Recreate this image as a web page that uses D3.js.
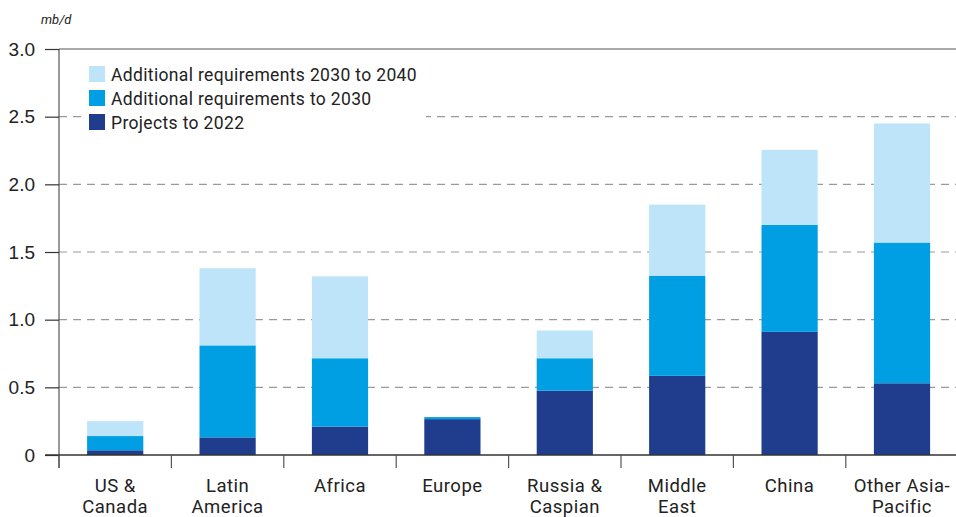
<!DOCTYPE html>
<html>
<head>
<meta charset="utf-8">
<script src="https://cdn.jsdelivr.net/npm/d3@7"></script>
<style>
  body { margin: 0; background: #fff; }
  svg { display: block; font-family: Roboto, "Liberation Sans", sans-serif; }
</style>
</head>
<body>
<div id="chart"></div>
<script>
// regions and stacked increments (mb/d)
var categories = [["US &", "Canada"], ["Latin", "America"], ["Africa"], ["Europe"],
    ["Russia &", "Caspian"], ["Middle", "East"], ["China"], ["Other Asia-", "Pacific"]];
var projects2022 = [0.035, 0.13, 0.21, 0.265, 0.475, 0.585, 0.91, 0.53];
var additional2030 = [0.105, 0.68, 0.505, 0.015, 0.24, 0.74, 0.79, 1.04];
var additional2040 = [0.11, 0.57, 0.605, 0, 0.205, 0.525, 0.555, 0.88];
var seriesNames = ["Projects to 2022", "Additional requirements to 2030", "Additional requirements 2030 to 2040"];
var seriesColors = ["#1f3d8c", "#009fe3", "#bee4f9"];
var yTicks = [0, 0.5, 1.0, 1.5, 2.0, 2.5, 3.0];

var width = 956, height = 517;
var margin = {top: 49, right: 0, bottom: 62, left: 59};

var svg = d3.select("#chart").append("svg")
    .attr("width", width)
    .attr("height", height);

var x = d3.scaleBand()
    .domain(d3.range(categories.length))
    .range([margin.left, margin.left + 8 * 112.4])
    .paddingInner(0.5)
    .paddingOuter(0.25);

var y = d3.scaleLinear()
    .domain([0, 3])
    .range([height - margin.bottom, margin.top]);

// grid lines
svg.append("g").selectAll("line")
    .data(yTicks.filter(function(d) { return d > 0 && d < 3; }))
    .enter().append("line")
    .attr("x1", margin.left)
    .attr("x2", width)
    .attr("y1", function(d) { return y(d); })
    .attr("y2", function(d) { return y(d); })
    .attr("stroke", "#9a9a9a")
    .attr("stroke-width", 1.2)
    .attr("stroke-dasharray", "8,6");

// top line
svg.append("line")
    .attr("x1", margin.left).attr("x2", width)
    .attr("y1", y(3)).attr("y2", y(3))
    .attr("stroke", "#555").attr("stroke-width", 1.2);

// stacked bars
var table = categories.map(function(c, i) {
    return {i: i, s0: projects2022[i], s1: additional2030[i], s2: additional2040[i]};
});
var stack = d3.stack().keys(["s0", "s1", "s2"]);
var layers = stack(table);

svg.append("g").selectAll("g")
    .data(layers)
    .enter().append("g")
    .attr("fill", function(d, k) { return seriesColors[k]; })
    .selectAll("rect")
    .data(function(d) { return d; })
    .enter().append("rect")
    .attr("x", function(d) { return x(d.data.i); })
    .attr("width", x.bandwidth())
    .attr("y", function(d) { return y(d[1]); })
    .attr("height", function(d) { return y(d[0]) - y(d[1]); });

// y axis
var yAxis = d3.axisLeft(y)
    .tickValues(yTicks)
    .tickSize(14)
    .tickPadding(10)
    .tickFormat(function(d) { return d === 0 ? "0" : d3.format(".1f")(d); });

var gy = svg.append("g")
    .attr("transform", "translate(" + margin.left + ",0)")
    .call(yAxis);
gy.select(".domain").attr("stroke", "#555").attr("stroke-width", 1.2)
    .attr("d", "M0," + y(3) + "V" + (y(0) + 13));
gy.selectAll(".tick line").attr("stroke", "#333").attr("stroke-width", 1.2);
gy.selectAll(".tick text")
    .attr("fill", "#222")
    .style("font-size", "19px");

// x axis baseline and category separators
svg.append("line")
    .attr("x1", margin.left - 14).attr("x2", width)
    .attr("y1", y(0)).attr("y2", y(0))
    .attr("stroke", "#333").attr("stroke-width", 1.4);

svg.append("g").selectAll("line")
    .data(d3.range(categories.length))
    .enter().append("line")
    .attr("x1", function(i) { return margin.left + i * x.step(); })
    .attr("x2", function(i) { return margin.left + i * x.step(); })
    .attr("y1", y(0))
    .attr("y2", y(0) + 13)
    .attr("stroke", "#555")
    .attr("stroke-width", 1.2);

// category labels
var labels = svg.append("g").selectAll("text")
    .data(categories)
    .enter().append("text")
    .attr("text-anchor", "middle")
    .attr("fill", "#222")
    .style("font-size", "18.5px")
    .style("letter-spacing", "0.5px")
    .attr("x", function(d, i) { return x(i) + x.bandwidth() / 2; })
    .attr("y", 492);
labels.selectAll("tspan")
    .data(function(d) { return d; })
    .enter().append("tspan")
    .attr("x", function() { return d3.select(this.parentNode).attr("x"); })
    .attr("dy", function(d, j) { return j === 0 ? 0 : 21; })
    .text(function(d) { return d; });

// unit label
svg.append("text")
    .attr("x", 41).attr("y", 24)
    .attr("fill", "#222")
    .style("font-size", "13px")
    .style("font-style", "italic")
    .text("mb/d");

// legend
var legend = svg.append("g");
legend.append("rect")
    .attr("x", 84).attr("y", 62).attr("width", 342).attr("height", 74)
    .attr("fill", "#fff");
var legendOrder = [2, 1, 0];
var items = legend.selectAll("g.item")
    .data(legendOrder)
    .enter().append("g")
    .attr("class", "item")
    .attr("transform", function(d, j) { return "translate(89," + (66 + j * 24) + ")"; });
items.append("rect")
    .attr("width", 16).attr("height", 16)
    .attr("fill", function(k) { return seriesColors[k]; });
items.append("text")
    .attr("x", 22).attr("y", 14.5)
    .attr("fill", "#222")
    .style("font-size", "17.5px")
    .style("letter-spacing", "0.35px")
    .text(function(k) { return seriesNames[k]; });
</script>
</body>
</html>
